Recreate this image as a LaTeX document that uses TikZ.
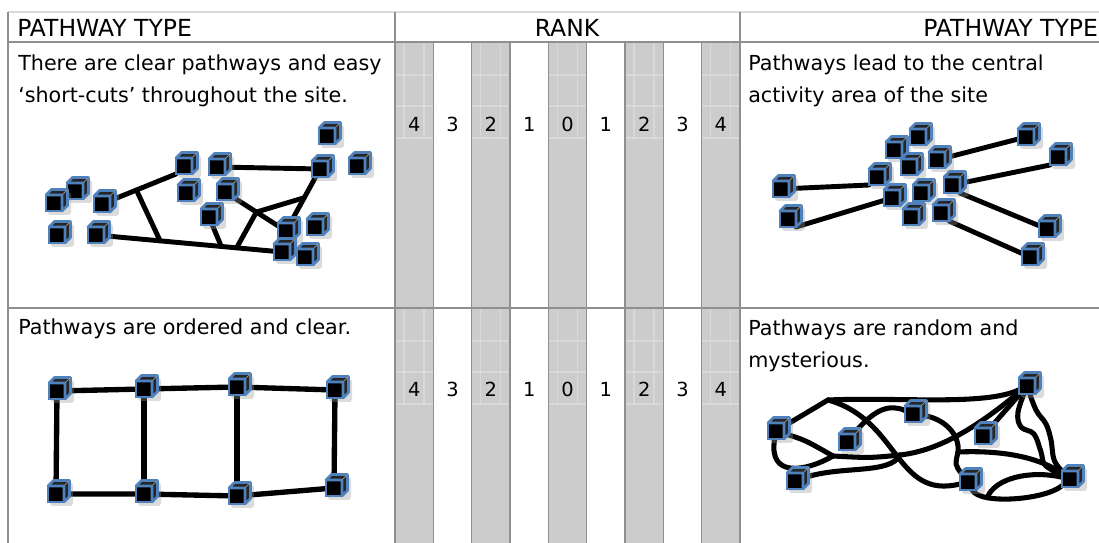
\documentclass[tikz,border=0pt]{standalone}
\usepackage{fontspec}
\setmainfont{DejaVu Sans}
\usetikzlibrary{calc}

\definecolor{cubeblue}{HTML}{4F81BD}
\definecolor{rankfill}{HTML}{CCCCCC}
\definecolor{rulegray}{HTML}{8F8F8F}
\definecolor{toprulegray}{HTML}{DADADA}

\pgfdeclarelayer{paths}
\pgfsetlayers{paths,main}

%% one site marker: soft shadow, black front face (the named node),
%% then the top and side faces
\newcommand\sitecube[2]{%
  \fill[cubeshade] ($(#2)+(-6,-11)$) rectangle ($(#2)+(17,12)$);
  \node[cubefront] (#1) at (#2) {};
  \filldraw[cubeside] (#1.north west) -- ++(5.5,-5.5) -- ++(16,0) -- ++(0,16)
    -- (#1.south east) -- (#1.north east) -- cycle;
  \draw[cubeedge] (#1.north east) -- ++(5.5,-5.5);
}

\begin{document}
\begin{tikzpicture}[
  x=0.025cm, y=-0.025cm,
  every node/.style={inner sep=0pt},
  head/.style     ={font=\fontsize{16.7}{19}\selectfont, anchor=base west},
  desc/.style     ={font=\fontsize{14.7}{23.4}\selectfont, align=left, anchor=base west},
  score/.style    ={font=\fontsize{13.8}{16}\selectfont, anchor=base},
  rule/.style     ={draw=rulegray, line width=1pt},
  band/.style     ={fill=rankfill},
  faint/.style    ={draw=white, opacity=.25, line width=.8pt},
  cubefront/.style={rectangle, fill=black, draw=cubeblue, line width=1.9pt,
                    minimum size=4mm, outer sep=0pt},
  cubeside/.style ={fill=black!85, draw=cubeblue, line width=1.9pt, line join=round},
  cubeedge/.style ={draw=black!45, line width=.6pt},
  cubeshade/.style={fill=black!40, opacity=.35, rounded corners=2pt},
  walk/.style     ={line width=3.5pt, line cap=round, line join=round},
  ribbon/.style   ={line width=3.8pt, line cap=round, line join=round},
  tangle/.style   ={line width=3.6pt, line cap=round, line join=round},
]
\useasboundingbox (0,0) rectangle (1099,543);

%% ---- rank bands (4, 2, 0, 2, 4 shaded) ----
\foreach \i in {0,2,4,6,8}{
  \fill[band] ({395+38.33*\i},42) rectangle ({395+38.33*(\i+1)},543);
  \foreach \t in {42,308}{
    \draw[faint] ({404+38.33*\i},\t) -- ++(0,96)
                 ({424+38.33*\i},\t) -- ++(0,96);
    \foreach \h in {33,64,96}
      \draw[faint] ({395+38.33*\i},\t+\h) -- ++(38.33,0);
  }
}

%% ---- table rules ----
\draw[draw=toprulegray, line width=1.6pt] (8,12) -- (1099,12);
\draw[rule] (8,12) -- (8,543) (395,12) -- (395,543) (740,12) -- (740,543);
\draw[rule] (8,42) -- (1099,42) (8,308) -- (1099,308);
\foreach \i in {1,...,8}
  \draw[rule] ({395+38.33*\i},42) -- ({395+38.33*\i},543);

%% ---- headings ----
\node[head] (typeL) at (17,37) {PATHWAY TYPE};
\node[head, anchor=base] (rank) at (567,37) {RANK};
\node[head] (typeR) at (923,37) {PATHWAY TYPE};

%% ---- rank scale, both rows ----
\foreach \n [count=\i from 0] in {4,3,2,1,0,1,2,3,4}{
  \node[score] (up\i) at ({414.2+38.33*\i},132) {\n};
  \node[score] (dn\i) at ({414.2+38.33*\i},397) {\n};
}

%% ---- descriptions (base = baseline of the last line) ----
\node[desc] (shortcut) at (18,103)
  {There are clear pathways and easy\\‘short-cuts’ throughout the site.};
\node[desc] (central) at (748,103)
  {Pathways lead to the central\\activity area of the site};
\node[desc] (ordered) at (18,335) {Pathways are ordered and clear.};
\node[desc] (random) at (748,368) {Pathways are random and\\mysterious.};

%% ---- short-cuts layout (top left) ----
\foreach \n/\x/\y in {sc11/327/136, sc6/184/166, sc13/357/166, sc7/217/167,
                      sc12/320/169, sc2/75/191, sc9/225/192, sc8/186/193,
                      sc1/54/203, sc3/102/204, sc10/209/217, sc15/315/227,
                      sc14/286/231, sc4/57/235, sc5/96/235, sc16/282/252,
                      sc17/305/257}
  \sitecube{\n}{\x,\y};

\begin{pgfonlayer}{paths}
\draw[walk] (sc3) -- coordinate[pos=.4] (scA) (sc6.south west);
\draw[walk] (sc5) -- coordinate[pos=.33] (scB) coordinate[pos=.69] (scC)
                     coordinate[pos=.78] (scD) (sc16);
\draw[walk] (scA) -- (scB);
\draw[walk] (sc7) -- (sc12);
\draw[walk] (sc12) -- coordinate[pos=.45] (scE) (sc14);
\draw[walk] (sc9) -- coordinate[pos=.52] (scF) (sc14);
\draw[walk] (sc10) -- (scC);
\draw[walk] (scD) -- (scF) -- (scE);
\end{pgfonlayer}

%% ---- central hub layout (top right) ----
\foreach \n/\x/\y in {ce5/918/137, ce13/1026/137, ce4/894/150, ce14/1058/157,
                      ce7/937/160, ce6/909/167, ce3/877/177, ce10/952/185,
                      ce1/781/189, ce9/921/193, ce8/892/198, ce12/941/213,
                      ce11/911/217, ce2/788/219, ce15/1047/229, ce16/1030/257}
  \sitecube{\n}{\x,\y};

\begin{pgfonlayer}{paths}
\draw[walk] (ce1) -- (ce3.south west);
\draw[walk] (ce2.south east) -- (ce8);
\draw[walk] (ce7) -- (ce13);
\draw[walk] (ce10) -- (ce14.south west);
\draw[walk] (ce10.south east) -- (ce15);
\draw[walk] (ce12.south east) -- (ce16);
\end{pgfonlayer}

%% ---- ordered grid (bottom left) ----
\foreach \n/\x/\y in {or1/57/391, or2/144/389, or3/237/387, or4/335/390,
                      or8/334/488, or5/56/494, or6/144/494, or7/237/496}
  \sitecube{\n}{\x,\y};

\begin{pgfonlayer}{paths}
\draw[ribbon] (or1) -- (or2) -- (or3) -- (or4);
\draw[ribbon] (or5) -- (or6) -- (or7) -- (or8);
\foreach \t/\b in {or1/or5, or2/or6, or3/or7, or4/or8}
  \draw[ribbon] (\t) -- (\b);
\end{pgfonlayer}

%% ---- random tangle (bottom right) ----
\foreach \n/\x/\y in {ra5/1027/386, ra4/913/414, ra1/776/431, ra6/983/436,
                      ra3/847/442, ra8/1070/479, ra2/795/481, ra7/968/482}
  \sitecube{\n}{\x,\y};

\coordinate (pk) at (828,400);
\coordinate (jn) at (833,456);
\coordinate (jm) at (900,455);
\coordinate (jr) at (958,452);

\begin{pgfonlayer}{paths}
\draw[tangle] (ra1) -- (pk);
\draw[tangle] (pk) .. controls (900,397) and (985,406) .. (ra5);
\draw[tangle] (pk) .. controls (900,420) and (895,500) .. (ra7);
\draw[tangle] (ra1) .. controls (805,440) .. (jn);
\draw[tangle] (ra1) .. controls (768,478) and (805,472) .. (jn);
\draw[tangle] (jn) .. controls (870,458) .. (jm);
\draw[tangle] (jm) .. controls (945,450) and (985,420) .. (ra5);
\draw[tangle] (ra2) .. controls (840,465) and (890,475) .. (jm);
\draw[tangle] (ra3) .. controls (875,408) and (890,404) .. (ra4);
\draw[tangle] (ra4) .. controls (945,418) and (960,435) .. (jr);
\draw[tangle] (jr) .. controls (955,465) .. (ra7);
\draw[tangle] (jr) .. controls (1005,450) and (1040,458) .. (ra8);
\draw[tangle] (ra5) -- (ra6);
\draw[tangle] plot[smooth, tension=.6] coordinates
  {(ra5) (1018,412) (1021,427) (1034,434) (1041,452) (1046,466) (ra8)};
\draw[tangle] plot[smooth, tension=.6] coordinates
  {(ra5) (1036,410) (1046,424) (1051,440) (1055,462) (ra8)};
\draw[tangle] (ra7) .. controls (980,505) and (1045,500) .. coordinate[pos=.25] (jb) (ra8);
\draw[tangle] (jb) .. controls (995,478) and (1030,470) .. (ra8);
\end{pgfonlayer}

\end{tikzpicture}
\end{document}
